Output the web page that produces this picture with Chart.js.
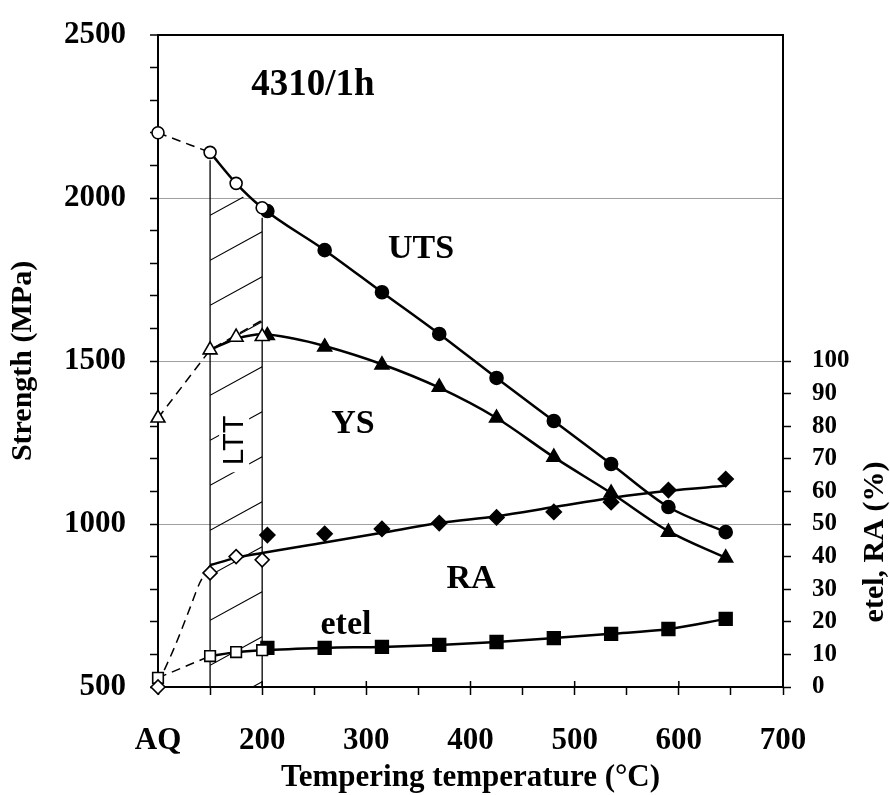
<!DOCTYPE html>
<html>
<head>
<meta charset="utf-8">
<script src="https://cdn.jsdelivr.net/npm/chart.js@4.4.1/dist/chart.umd.min.js"></script>
<style>
  html, body { margin: 0; background: #fff; }
</style>
</head>
<body>
<canvas id="strengthChart" width="890" height="795"></canvas>
<script>
// open symbols: as-quenched (drawn at 100) and low temperature tempers
const lowTemps = [100, 150, 175, 200];
// filled symbols
const highTemps = [205, 260, 315, 370, 425, 480, 535, 590, 645];

const utsLow = [2200, 2140, 2045, 1970];
const utsHigh = [1960, 1840, 1711, 1583, 1448, 1316, 1184, 1052, 975];
const ysLow = [1325, 1534, 1573, 1575];
const ysHigh = [1578, 1543, 1488, 1420, 1325, 1205, 1095, 975, 896];
const raLow = [0, 35, 40, 39];
const raHigh = [46.6, 47, 48.5, 50.3, 52, 53.7, 56.7, 60.4, 63.8];
const etelLow = [2.8, 9.5, 10.7, 11.3];
const etelHigh = [12, 12, 12.3, 12.9, 13.8, 15, 16.3, 17.8, 20.9];

// hand drawn curves
const ysFitT = [150, 175, 200, 230, 260, 315, 370, 425, 480, 535, 590, 645];
const ysFit = [1534, 1568, 1582, 1569, 1546, 1490, 1418, 1325, 1205, 1095, 978, 896];
const raFitT = [150, 175, 200, 260, 315, 370, 425, 480, 535, 590, 645];
const raFit = [37.4, 39.6, 41.1, 44.3, 47.3, 50.3, 52.4, 55.2, 58, 60.2, 61.7];
const ysDashT = [100, 150, 200];
const ysDash = [1325, 1534, 1625];
const raDashT = [100, 116, 131, 140, 150];
const raDash = [1, 12.3, 24.5, 31.9, 37.4];

// tick labels
const xLabelValues = [100, 200, 300, 400, 500, 600, 700];
const xLabels = ["AQ", "200", "300", "400", "500", "600", "700"];
const strengthLabels = [500, 1000, 1500, 2000, 2500];
const grayLines = [1000, 1500, 2000];

const pts = (xs, ys) => xs.map((x, i) => ({ x: x, y: ys[i] }));

const serif = "'Liberation Serif', 'Times New Roman', serif";
Chart.defaults.font.family = serif;
Chart.defaults.font.weight = "bold";
Chart.defaults.color = "#000";

function markers(data, axis, style, radius, filled) {
    return {
        data: data,
        yAxisID: axis,
        showLine: false,
        pointStyle: style,
        pointRadius: radius,
        pointBorderWidth: 1.6,
        pointBorderColor: "#000",
        pointBackgroundColor: filled ? "#000" : "#fff",
        clip: false,
        order: 0
    };
}

function curve(data, axis, dashed, tension) {
    return {
        data: data,
        yAxisID: axis,
        borderColor: "#000",
        borderWidth: dashed ? 1.5 : 2.5,
        borderDash: dashed ? [9, 6] : [],
        pointRadius: 0,
        cubicInterpolationMode: tension ? "default" : "monotone",
        tension: tension || 0,
        fill: false,
        clip: false,
        order: 1
    };
}

// hatched LTT band, labels and the right axis title
const decorations = {
    id: "decorations",
    beforeDatasetsDraw(chart) {
        const { ctx, scales: { x, y } } = chart;
        const xl = x.getPixelForValue(150), xr = x.getPixelForValue(200);
        const yl = y.getPixelForValue(utsLow[1]) + 8, yr = y.getPixelForValue(utsLow[3]) + 10;
        const yb = y.getPixelForValue(500);
        ctx.save();
        ctx.strokeStyle = "#000";
        ctx.lineWidth = 1.3;
        ctx.beginPath();
        ctx.moveTo(xl, yl); ctx.lineTo(xl, yb);
        ctx.moveTo(xr, yr); ctx.lineTo(xr, yb);
        ctx.stroke();
        ctx.beginPath();
        ctx.moveTo(xl, yl); ctx.lineTo(xr, yr); ctx.lineTo(xr, yb); ctx.lineTo(xl, yb);
        ctx.closePath();
        ctx.clip();
        ctx.lineWidth = 1.1;
        ctx.beginPath();
        for (let y0 = yl + 55; y0 < yb + 60; y0 += 45) {
            ctx.moveTo(xl, y0);
            ctx.lineTo(xr, y0 - 0.55 * (xr - xl));
        }
        ctx.stroke();
        ctx.restore();

        // LTT label on a white patch
        ctx.save();
        ctx.translate((xl + xr) / 2 - 1, y.getPixelForValue(1257));
        ctx.rotate(-Math.PI / 2);
        ctx.fillStyle = "#fff";
        ctx.fillRect(-32, -16, 64, 30);
        ctx.fillStyle = "#000";
        ctx.font = "29px 'Liberation Sans', Arial, sans-serif";
        ctx.textAlign = "center";
        ctx.textBaseline = "middle";
        ctx.fillText("LTT", 0, 0);
        ctx.restore();
    },
    afterDraw(chart) {
        const { ctx, scales: { x, y } } = chart;
        ctx.save();
        ctx.fillStyle = "#000";
        ctx.textAlign = "center";
        ctx.textBaseline = "alphabetic";
        ctx.font = "bold 37px " + serif;
        ctx.fillText("4310/1h", 313, 95);
        ctx.font = "bold 34px " + serif;
        ctx.fillText("UTS", 421, 258);
        ctx.fillText("YS", 353, 433);
        ctx.fillText("RA", 471, 588);
        ctx.fillText("etel", 346, 634);

        // short inward marks on the major x ticks
        ctx.strokeStyle = "#000";
        ctx.lineWidth = 1.5;
        ctx.beginPath();
        for (let v = 200; v < 700; v += 100) {
            const px = x.getPixelForValue(v);
            ctx.moveTo(px, y.bottom);
            ctx.lineTo(px, y.bottom - 6);
        }
        ctx.stroke();

        ctx.translate(875, 542);
        ctx.rotate(-Math.PI / 2);
        ctx.font = "bold 30px " + serif;
        ctx.textBaseline = "middle";
        ctx.fillText("etel, RA (%)", 0, 0);
        ctx.restore();
    }
};

new Chart(document.getElementById("strengthChart"), {
    type: "line",
    data: {
        datasets: [
            markers(pts(lowTemps, utsLow), "y", "circle", 6, false),
            markers(pts(highTemps, utsHigh), "y", "circle", 6.5, true),
            markers(pts(lowTemps, ysLow), "y", "triangle", 8, false),
            markers(pts(highTemps, ysHigh), "y", "triangle", 8, true),
            markers(pts(lowTemps, raLow), "y2", "rectRot", 7, false),
            markers(pts(highTemps, raHigh), "y2", "rectRot", 7.5, true),
            markers(pts(lowTemps, etelLow), "y2", "rect", 7.5, false),
            markers(pts(highTemps, etelHigh), "y2", "rect", 9, true),

            curve(pts(lowTemps.slice(0, 2), utsLow.slice(0, 2)), "y", true),
            curve(pts(lowTemps.slice(1).concat(highTemps.slice(1)), utsLow.slice(1).concat(utsHigh.slice(1))), "y", false),
            curve(pts(ysDashT, ysDash), "y", true, 0.0001),
            curve(pts(ysFitT, ysFit), "y", false),
            curve(pts(raDashT, raDash), "y2", true, 0.3),
            curve(pts(raFitT, raFit), "y2", false),
            curve(pts(lowTemps.slice(0, 2), etelLow.slice(0, 2)), "y2", true),
            curve(pts(lowTemps.slice(1).concat(highTemps.slice(1)), etelLow.slice(1).concat(etelHigh.slice(1))), "y2", false)
        ]
    },
    options: {
        responsive: false,
        animation: false,
        layout: { padding: { top: 35, left: 0, right: 0, bottom: 0 } },
        plugins: { legend: { display: false }, tooltip: { enabled: false } },
        scales: {
            x: {
                type: "linear",
                min: 100,
                max: 700,
                afterFit(scale) { scale.height = 108; },
                border: { color: "#000", width: 2 },
                grid: { drawOnChartArea: false, tickLength: 8, tickColor: "#000", tickWidth: 1.5 },
                ticks: {
                    stepSize: 50,
                    autoSkip: false,
                    maxRotation: 0,
                    padding: 30,
                    font: { size: 31, weight: "bold", lineHeight: 1 },
                    callback: v => {
                        const i = xLabelValues.indexOf(v);
                        return i >= 0 ? xLabels[i] : "";
                    }
                },
                title: {
                    display: true,
                    text: "Tempering temperature (°C)",
                    font: { size: 31, weight: "bold", lineHeight: 1 },
                    padding: { top: 0, bottom: 2 }
                }
            },
            y: {
                position: "left",
                min: 500,
                max: 2500,
                afterFit(scale) {
                    scale.width = 158;
                    scale.paddingTop = 0;
                    scale.paddingBottom = 0;
                },
                border: { color: "#000", width: 2 },
                grid: {
                    tickLength: 8,
                    tickColor: "#000",
                    tickWidth: 1.5,
                    color: c => c.tick.value === 2500 ? "#000" : (grayLines.includes(c.tick.value) ? "#a0a0a0" : "rgba(0,0,0,0)"),
                    lineWidth: c => c.tick.value === 2500 ? 2 : 1
                },
                ticks: {
                    stepSize: 100,
                    autoSkip: false,
                    padding: 24,
                    font: { size: 31, weight: "bold" },
                    callback: v => strengthLabels.includes(v) ? String(v) : ""
                },
                title: {
                    display: true,
                    text: "Strength (MPa)",
                    font: { size: 30, weight: "bold", lineHeight: 1 },
                    padding: { top: 8, bottom: 0 }
                }
            },
            y2: {
                position: "right",
                min: 0,
                max: 200,
                afterFit(scale) {
                    scale.width = 107;
                    scale.paddingTop = 0;
                    scale.paddingBottom = 0;
                },
                afterBuildTicks(scale) { scale.ticks = scale.ticks.filter(t => t.value <= 100); },
                border: { color: "#000", width: 2 },
                grid: { drawOnChartArea: false, tickLength: 8, tickColor: "#000", tickWidth: 1.5 },
                ticks: {
                    stepSize: 10,
                    autoSkip: false,
                    padding: 21,
                    font: { size: 25, weight: "bold" }
                }
            }
        }
    },
    plugins: [decorations]
});
</script>
</body>
</html>
